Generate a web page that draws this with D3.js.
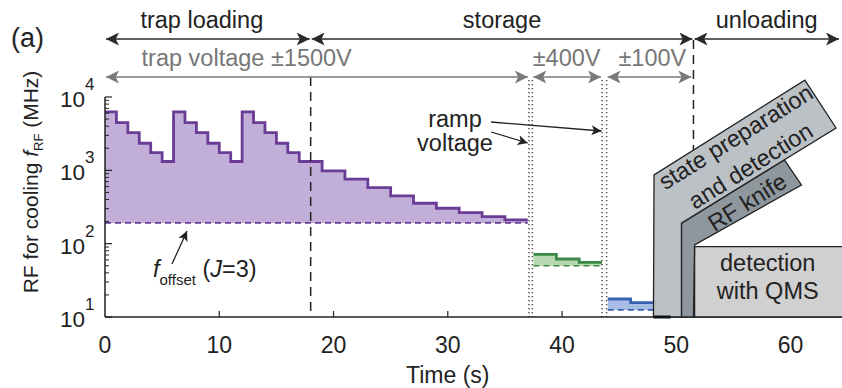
<!DOCTYPE html>
<html>
<head>
<meta charset="utf-8">
<script src="https://cdn.jsdelivr.net/npm/d3@7"></script>
<style>
  body { margin: 0; background: #fff; }
  svg text { font-family: "Liberation Sans", Arial, sans-serif; fill: #222; }
</style>
</head>
<body>
<div id="chart"></div>
<script>
// data
var xTicks = [0, 10, 20, 30, 40, 50, 60];
var yDecades = [10, 100, 1000, 10000];

// purple: trap loading + storage at +-1500V (step start times, RF in MHz)
var loadStart = [0, 1, 2, 3, 4, 5, 6, 7, 8, 9, 10, 11, 12, 13, 14, 15, 16, 17, 19, 21, 23, 25, 27, 29, 31, 33, 35];
var loadRF = [6270, 4480, 3270, 2340, 1740, 1320, 6270, 4480, 3270, 2340, 1740, 1320,
              6270, 4480, 3270, 2340, 1740, 1320, 981, 757, 581, 448, 356, 304, 265, 234, 211];
var loadEnd = 37;
var loadOffset = 192;

// green: +-400V
var midStart = [37.5, 39.5, 41.5];
var midRF = [71.6, 61.8, 55.7];
var midEnd = 43.5;
var midOffset = 50;

// blue: +-100V
var lowStart = [44, 46];
var lowRF = [17.6, 15.7];
var lowEnd = 48;
var lowOffset = 12.5;

var phaseLabels = ["trap loading", "storage", "unloading"];
var phaseBounds = [0, 18, 51.5, 64.5];
var voltLabels = ["trap voltage \u00b11500V", "\u00b1400V", "\u00b1100V"];
var voltRanges = [[0, 37.1], [37.4, 43.5], [43.9, 51.4]];
var voltLabelAt = [12.4, 40.4, 47.9];
var dashedAt = [18, 51.5];
var dottedAt = [37.1, 37.4, 43.5, 43.9];

// annotation boxes in (time, MHz)
var boxKnife = [[50.45, 10], [50.45, 190], [59.46, 1387], [60.95, 632], [51.6, 96], [51.5, 10]];
var boxState = [[48.0, 10], [48.05, 865], [61.25, 17000], [63.98, 3785], [50.45, 190], [50.45, 10]];
var boxQMS = [[51.6, 10], [51.6, 91], [64.6, 91], [64.6, 10]];

var W = 842, H = 388;
var FS = 23.5;
var svg = d3.select("#chart").append("svg")
  .attr("width", W).attr("height", H);

var x = d3.scaleLinear().domain([0, 64.5]).range([105, 842]);
var y = d3.scaleLog().domain([10, 10000]).range([317, 97]);

var defs = svg.append("defs");
function marker(id, color, size) {
  defs.append("marker")
    .attr("id", id)
    .attr("viewBox", "0 0 10 10")
    .attr("refX", 10).attr("refY", 5)
    .attr("markerWidth", size).attr("markerHeight", size)
    .attr("markerUnits", "userSpaceOnUse")
    .attr("orient", "auto-start-reverse")
    .append("path")
    .attr("d", "M0,0 L10,5 L0,10 L2.5,5 Z")
    .attr("fill", color);
}
marker("arDark", "#2a2a2a", 13);
marker("arGrey", "#7a7a7a", 13);
marker("arThin", "#222", 10);

// step series -> area between staircase and offset
function steps(start, rf, end) {
  var pts = start.map((t, i) => ({t: t, v: rf[i]}));
  pts.push({t: end, v: rf[rf.length - 1]});
  return pts;
}
function drawSeries(start, rf, end, offset, line, fill) {
  var pts = steps(start, rf, end);
  var area = d3.area().curve(d3.curveStepAfter)
    .x(d => x(d.t)).y0(y(offset)).y1(d => y(d.v));
  var ln = d3.line().curve(d3.curveStepAfter)
    .x(d => x(d.t)).y(d => y(d.v));
  svg.append("path").attr("d", area(pts)).attr("fill", fill);
  svg.append("line")
    .attr("x1", x(start[0])).attr("x2", x(end))
    .attr("y1", y(offset)).attr("y2", y(offset))
    .attr("stroke", line).attr("stroke-width", 1.6)
    .attr("stroke-dasharray", "6,4");
  svg.append("path").attr("d", ln(pts))
    .attr("fill", "none").attr("stroke", line)
    .attr("stroke-width", 2.8);
}
drawSeries(loadStart, loadRF, loadEnd, loadOffset, "#6a3c96", "#c2afd9");
drawSeries(midStart, midRF, midEnd, midOffset, "#3d8a48", "#b5d7b2");
drawSeries(lowStart, lowRF, lowEnd, lowOffset, "#3a62b3", "#a8bde6");

// vertical markers
svg.selectAll(".dash").data(dashedAt).enter().append("line")
  .attr("x1", d => x(d)).attr("x2", d => x(d))
  .attr("y1", (d, i) => i === 0 ? 77 : 40).attr("y2", 317)
  .attr("stroke", "#222").attr("stroke-width", 1.5)
  .attr("stroke-dasharray", "9,6");
svg.selectAll(".dot").data(dottedAt).enter().append("line")
  .attr("x1", d => x(d)).attr("x2", d => x(d))
  .attr("y1", 80).attr("y2", 317)
  .attr("stroke", "#444").attr("stroke-width", 1.4)
  .attr("stroke-dasharray", "1.3,2.7");

// axes
var axisG = svg.append("g");
axisG.append("line").attr("x1", x(0)).attr("x2", 842)
  .attr("y1", y(10)).attr("y2", y(10)).attr("stroke", "#222").attr("stroke-width", 1.5);
axisG.append("line").attr("x1", x(0)).attr("x2", x(0))
  .attr("y1", y(10)).attr("y2", y(10000)).attr("stroke", "#222").attr("stroke-width", 1.5);

axisG.selectAll(".xt").data(xTicks.filter(d => d > 0)).enter().append("line")
  .attr("x1", d => x(d)).attr("x2", d => x(d))
  .attr("y1", y(10)).attr("y2", y(10) - 6)
  .attr("stroke", "#222").attr("stroke-width", 1.2);
axisG.selectAll(".xl").data(xTicks).enter().append("text")
  .attr("x", d => x(d)).attr("y", 353)
  .attr("text-anchor", "middle").attr("font-size", 23)
  .text(d => d);

var minor = [];
yDecades.slice(0, -1).forEach(d => { for (var k = 2; k <= 9; k++) minor.push(d * k); });
axisG.selectAll(".ym").data(minor).enter().append("line")
  .attr("x1", x(0)).attr("x2", x(0) + 4)
  .attr("y1", d => y(d)).attr("y2", d => y(d))
  .attr("stroke", "#222").attr("stroke-width", 1);
axisG.selectAll(".yM").data(yDecades).enter().append("line")
  .attr("x1", x(0)).attr("x2", x(0) + 7)
  .attr("y1", d => y(d)).attr("y2", d => y(d))
  .attr("stroke", "#222").attr("stroke-width", 1.2);

var yl = axisG.selectAll(".yl").data(yDecades).enter().append("text")
  .attr("x", 60).attr("y", d => y(d) + 10)
  .attr("font-size", 22.5);
yl.append("tspan").text("10");
yl.append("tspan").attr("dy", -17).attr("font-size", 17)
  .text(d => Math.round(Math.log10(d)));

svg.append("text").attr("x", x(30)).attr("y", 383)
  .attr("text-anchor", "middle").attr("font-size", 23).text("Time (s)");

var ylab = svg.append("text")
  .attr("transform", "translate(38,182) rotate(-90)")
  .attr("text-anchor", "middle").attr("font-size", 21);
ylab.append("tspan").text("RF for cooling ");
ylab.append("tspan").attr("font-style", "italic").text("f");
ylab.append("tspan").attr("font-size", 13).attr("dy", 5).text("RF");
ylab.append("tspan").attr("dy", -5).text(" (MHz)");

// annotation boxes
var poly = d3.line().x(d => x(d[0])).y(d => y(d[1]));
svg.append("path").attr("d", poly(boxQMS) + "Z")
  .attr("fill", "#d0d0d0").attr("stroke", "#222").attr("stroke-width", 1.3);
svg.append("path").attr("d", poly(boxKnife) + "Z")
  .attr("fill", "#8e969e").attr("stroke", "#222").attr("stroke-width", 1.3);
svg.append("path").attr("d", poly(boxState) + "Z")
  .attr("fill", "#bcc1c6").attr("stroke", "#222").attr("stroke-width", 1.3);
svg.append("line").attr("x1", x(48)).attr("x2", x(49.5))
  .attr("y1", y(10)).attr("y2", y(10))
  .attr("stroke", "#111").attr("stroke-width", 3);

function rotText(t, v, ang, str) {
  svg.append("text")
    .attr("transform", "translate(" + x(t) + "," + y(v) + ") rotate(" + ang + ")")
    .attr("text-anchor", "middle").attr("dy", "0.35em")
    .attr("font-size", FS).text(str);
}
rotText(55.2, 2860, -32, "state preparation");
rotText(56.5, 1160, -32, "and detection");
rotText(56.2, 370, -32, "RF knife");
svg.append("text").attr("x", x(58)).attr("y", 271)
  .attr("text-anchor", "middle").attr("font-size", FS).text("detection");
svg.append("text").attr("x", x(58)).attr("y", 299)
  .attr("text-anchor", "middle").attr("font-size", FS).text("with QMS");

// phase arrows
phaseLabels.forEach(function(lab, i) {
  var a = x(phaseBounds[i]), b = Math.min(x(phaseBounds[i + 1]), 840);
  svg.append("line").attr("x1", a + 1).attr("x2", b - 1)
    .attr("y1", 39).attr("y2", 39)
    .attr("stroke", "#2a2a2a").attr("stroke-width", 1.6)
    .attr("marker-start", "url(#arDark)").attr("marker-end", "url(#arDark)");
  svg.append("text").attr("x", (a + b) / 2 - (i === 0 ? 6 : 0)).attr("y", 28)
    .attr("text-anchor", "middle").attr("font-size", FS).text(lab);
});
voltLabels.forEach(function(lab, i) {
  var a = x(voltRanges[i][0]), b = x(voltRanges[i][1]);
  svg.append("line").attr("x1", a + 1).attr("x2", b - 1)
    .attr("y1", 77).attr("y2", 77)
    .attr("stroke", "#7a7a7a").attr("stroke-width", 1.6)
    .attr("marker-start", "url(#arGrey)").attr("marker-end", "url(#arGrey)");
  svg.append("text").attr("x", x(voltLabelAt[i])).attr("y", 66)
    .attr("text-anchor", "middle").attr("font-size", FS)
    .style("fill", "#777").text(lab);
});

svg.append("text").attr("x", 11).attr("y", 47).attr("font-size", 27).text("(a)");

// ramp voltage note
svg.append("text").attr("x", 455).attr("y", 127)
  .attr("text-anchor", "middle").attr("font-size", FS).text("ramp");
svg.append("text").attr("x", 455).attr("y", 151)
  .attr("text-anchor", "middle").attr("font-size", FS).text("voltage");
svg.append("line").attr("x1", 491).attr("y1", 122).attr("x2", x(43.45)).attr("y2", 131)
  .attr("stroke", "#222").attr("stroke-width", 1.3).attr("marker-end", "url(#arThin)");
svg.append("line").attr("x1", 491).attr("y1", 132).attr("x2", x(37.0)).attr("y2", 143)
  .attr("stroke", "#222").attr("stroke-width", 1.3).attr("marker-end", "url(#arThin)");

// f_offset note
svg.append("line").attr("x1", 172).attr("y1", 264).attr("x2", 187).attr("y2", 231)
  .attr("stroke", "#222").attr("stroke-width", 1.3).attr("marker-end", "url(#arThin)");
var fo = svg.append("text").attr("x", 153).attr("y", 277).attr("font-size", FS);
fo.append("tspan").attr("font-style", "italic").text("f");
fo.append("tspan").attr("font-size", 15).attr("dy", 8).text("offset");
fo.append("tspan").attr("dy", -8).text(" (");
fo.append("tspan").attr("font-style", "italic").text("J");
fo.append("tspan").text("=3)");
</script>
</body>
</html>
